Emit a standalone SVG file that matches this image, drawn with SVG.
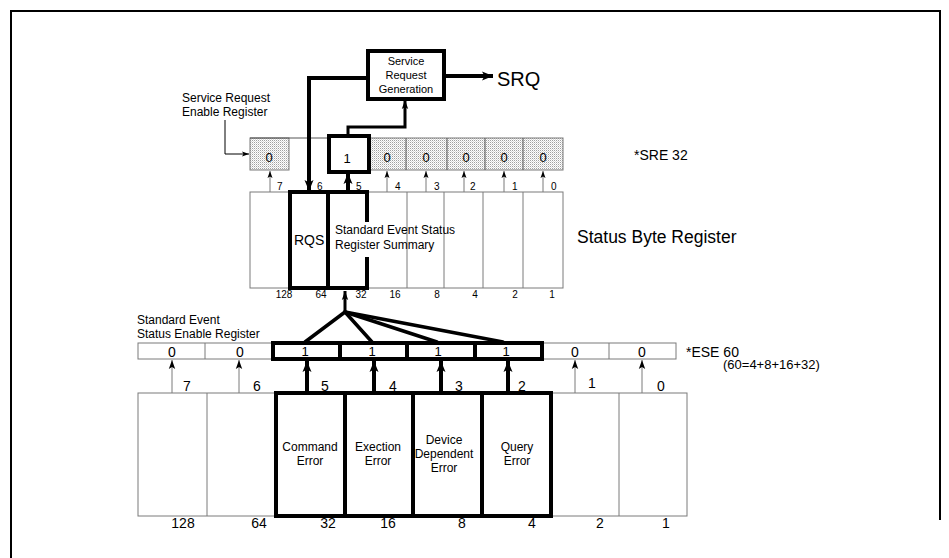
<svg xmlns="http://www.w3.org/2000/svg" width="949" height="558" viewBox="0 0 949 558">
<defs>
<pattern id="dots" width="2" height="2" patternUnits="userSpaceOnUse">
<rect width="2" height="2" fill="#ffffff"/>
<rect width="1" height="1" fill="#a0a0a0"/>
<rect x="1" y="1" width="1" height="1" fill="#d8d8d8"/>
</pattern>
<marker id="ah" markerUnits="userSpaceOnUse" markerWidth="12" markerHeight="12" viewBox="0 0 12 12" refX="11" refY="6" orient="auto">
<path d="M0,1.5 L11,6 L0,10.5 L2.5,6 Z" fill="#000"/>
</marker>
<marker id="ahs" markerUnits="userSpaceOnUse" markerWidth="10" markerHeight="10" viewBox="0 0 10 10" refX="9" refY="5" orient="auto">
<path d="M0,1.8 L9,5 L0,8.2 L2,5 Z" fill="#000"/>
</marker>
<marker id="aht" markerUnits="userSpaceOnUse" markerWidth="8" markerHeight="8" viewBox="0 0 8 8" refX="7" refY="4" orient="auto">
<path d="M0,1.5 L7,4 L0,6.5 L1.5,4 Z" fill="#000"/>
</marker>
</defs>
<style>
text{font-family:"Liberation Sans",Arial,sans-serif;fill:#000}
.thin{fill:none;stroke:#7a7a7a;stroke-width:1}
.thick{fill:none;stroke:#000;stroke-width:4}
.c{text-anchor:middle}
.s10{font-size:10px}
.s11{font-size:11px}
.s12{font-size:12px}
.s13{font-size:13px}
.s14{font-size:14px}
</style>
<rect width="949" height="558" fill="#fff"/>
<g id="frame">
<path d="M10,11 H940 M11,10 V558 M940,10 V520" fill="none" stroke="#000" stroke-width="2"/>
</g>

<g id="srg">
<rect x="368" y="51" width="76" height="48" fill="#fff" stroke="#000" stroke-width="4"/>
<text class="s11 c" x="406" y="65">Service</text>
<text class="s11 c" x="406" y="79">Request</text>
<text class="s11 c" x="406" y="93">Generation</text>
</g>
<g id="srq"><text x="497" y="86" style="font-size:20px">SRQ</text></g>

<g id="sre">
<text class="s12" x="182" y="102">Service Request</text>
<text class="s12" x="182" y="116">Enable Register</text>
<rect x="250" y="138" width="39" height="32" fill="url(#dots)" stroke="#7a7a7a" stroke-width="1"/>
<line x1="250" y1="138" x2="330" y2="138" stroke="#555" stroke-width="1"/>
<rect x="369" y="138" width="194" height="32" fill="url(#dots)" stroke="#7a7a7a" stroke-width="1"/>
<path d="M406,138 V170 M447,138 V170 M485,138 V170 M523,138 V170" stroke="#555" stroke-width="1"/>
<rect x="329" y="136" width="40" height="36" fill="#fff" stroke="#000" stroke-width="4"/>
<text class="s13 c" x="269" y="162">0</text>
<text class="s13 c" x="347" y="163">1</text>
<text class="s13 c" x="387" y="162">0</text>
<text class="s13 c" x="426" y="162">0</text>
<text class="s13 c" x="466" y="162">0</text>
<text class="s13 c" x="504" y="162">0</text>
<text class="s13 c" x="543" y="162">0</text>
<text x="634" y="160" style="font-size:14px">*SRE 32</text>
</g>

<g id="sbr">
<rect x="250" y="192" width="313" height="96" class="thin"/>
<path d="M407,192 V288 M444,192 V288 M483,192 V288 M523,192 V288" class="thin"/>
<rect x="290" y="192" width="38" height="96" class="thick"/>
<path d="M328,192 H367 V222 M367,257 V288 H328" class="thick"/>
<text x="294" y="245" style="font-size:14px">RQS</text>
<text class="s12" x="335" y="234">Standard Event Status</text>
<text class="s12" x="335" y="249">Register Summary</text>
<text x="577" y="243" style="font-size:17.5px">Status Byte Register</text>
<g class="s10" fill="#000">
<text x="277" y="190">7</text><text x="317" y="190">6</text><text x="356" y="190">5</text><text x="395" y="190">4</text>
<text x="434" y="190">3</text><text x="470" y="190">2</text><text x="512" y="190">1</text><text x="551" y="190">0</text>
</g>
<g class="s10">
<text class="c" x="284" y="298">128</text><text class="c" x="321" y="298">64</text><text class="c" x="361" y="298">32</text><text class="c" x="395" y="298">16</text>
<text class="c" x="437" y="298">8</text><text class="c" x="475" y="298">4</text><text class="c" x="515" y="298">2</text><text class="c" x="552" y="298">1</text>
</g>
</g>

<g id="ese">
<text class="s12" x="137" y="324">Standard Event</text>
<text class="s12" x="137" y="338">Status Enable Register</text>
<rect x="138" y="343" width="538" height="16" class="thin"/>
<path d="M205,343 V359 M609,343 V359" class="thin"/>
<rect x="273" y="343" width="269" height="16" class="thick"/>
<path d="M340,343 V359 M407,343 V359 M475,343 V359" class="thick"/>
<text class="s14 c" x="172" y="357">0</text>
<text class="s14 c" x="240" y="357">0</text>
<text class="s13 c" x="305" y="356">1</text>
<text class="s13 c" x="372" y="356">1</text>
<text class="s13 c" x="438" y="356">1</text>
<text class="s13 c" x="506" y="356">1</text>
<text class="s14 c" x="575" y="357">0</text>
<text class="s14 c" x="642" y="357">0</text>
<text x="686" y="357" style="font-size:14px">*ESE 60</text>
<text x="723" y="369" style="font-size:13px">(60=4+8+16+32)</text>
</g>

<g id="esr">
<rect x="138" y="393" width="549" height="123" class="thin"/>
<path d="M207,393 V516 M619,393 V516" class="thin"/>
<rect x="276" y="393" width="275" height="123" class="thick"/>
<path d="M345,393 V516 M413,393 V516 M482,393 V516" class="thick"/>
<text class="s12 c" x="310" y="451">Command</text>
<text class="s12 c" x="310" y="465">Error</text>
<text class="s12 c" x="378" y="451">Exection</text>
<text class="s12 c" x="378" y="465">Error</text>
<text class="s12 c" x="444" y="444">Device</text>
<text class="s12 c" x="444" y="458">Dependent</text>
<text class="s12 c" x="444" y="472">Error</text>
<text class="s12 c" x="517" y="451">Query</text>
<text class="s12 c" x="517" y="465">Error</text>
<g class="s14">
<text class="c" x="187" y="391">7</text><text class="c" x="257" y="391">6</text><text class="c" x="325" y="391">5</text><text class="c" x="393" y="391">4</text>
<text class="c" x="459" y="391">3</text><text class="c" x="522" y="391">2</text><text class="c" x="592" y="388">1</text><text class="c" x="661" y="391">0</text>
</g>
<g class="s14">
<text class="c" x="183" y="528">128</text><text class="c" x="259" y="528">64</text><text class="c" x="328" y="528">32</text><text class="c" x="388" y="528">16</text>
<text class="c" x="462" y="528">8</text><text class="c" x="532" y="528">4</text><text class="c" x="600" y="528">2</text><text class="c" x="666" y="528">1</text>
</g>
</g>

<g id="connectors">
<path d="M444,76 H493" stroke="#000" stroke-width="4" fill="none" marker-end="url(#ah)"/>
<path d="M368,78 H309 V191" stroke="#000" stroke-width="4" fill="none" marker-end="url(#ah)"/>
<path d="M348,136 V127 H405 V100" stroke="#000" stroke-width="3" fill="none" marker-end="url(#ahs)"/>
<path d="M225,120 V154 H249" stroke="#000" stroke-width="1" fill="none" marker-end="url(#aht)"/>
<path d="M348,192 V173" stroke="#000" stroke-width="4" fill="none" marker-end="url(#ah)"/>
<g stroke="#7a7a7a" stroke-width="1" fill="none" marker-end="url(#aht)">
<path d="M270,192 V171"/><path d="M387,192 V171"/><path d="M426,192 V171"/><path d="M464,192 V171"/><path d="M504,192 V171"/><path d="M543,192 V171"/>
</g>
<path d="M345,312 V291" stroke="#000" stroke-width="3" fill="none" marker-end="url(#ahs)"/>
<g stroke="#000" stroke-width="3.5" fill="none" stroke-linecap="round">
<path d="M345,312 L305,342"/><path d="M345,312 L372,342"/><path d="M345,312 L437,342"/><path d="M345,312 L503,342"/>
</g>
<g stroke="#7a7a7a" stroke-width="1" fill="none" marker-end="url(#ahs)">
<path d="M172,393 V360"/><path d="M239,393 V360"/><path d="M575,393 V360"/><path d="M642,393 V360"/>
</g>
<g stroke="#000" stroke-width="4" fill="none" marker-end="url(#ah)">
<path d="M307,393 V361"/><path d="M374,393 V361"/><path d="M441,393 V361"/><path d="M508,393 V361"/>
</g>
</g>
</svg>
